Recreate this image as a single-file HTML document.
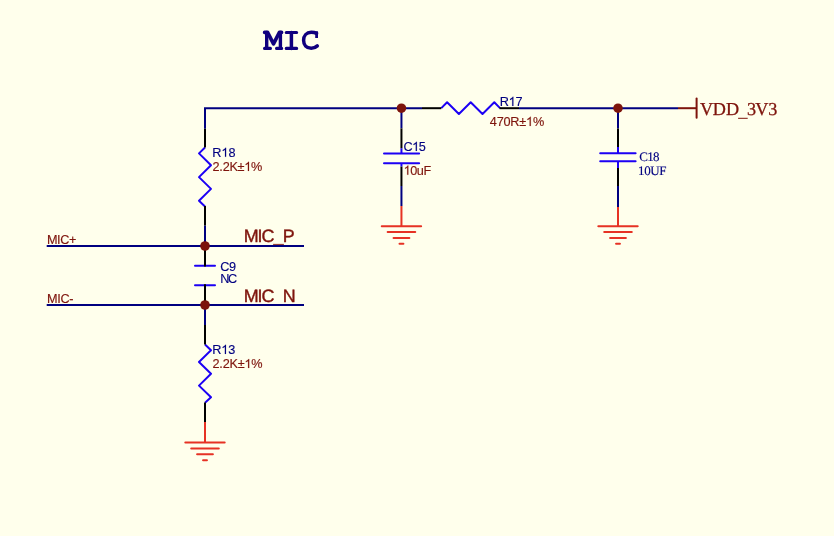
<!DOCTYPE html>
<html><head><meta charset="utf-8"><title>MIC</title>
<style>
html,body{margin:0;padding:0;background:#FFFFEC;}
body{width:834px;height:536px;overflow:hidden;}
svg{display:block;}
.gp{text-rendering:geometricPrecision;}
</style></head><body>
<svg width="834" height="536" viewBox="0 0 834 536">
<defs><filter id="nf" x="0" y="0" width="1" height="1"><feOffset dx="0" dy="0"/></filter></defs>
<rect x="0" y="0" width="834" height="536" fill="#FFFFEC"/>
<g fill="none" stroke="#10007E" stroke-width="3.2" stroke-linecap="round" stroke-linejoin="round">
<path d="M264.6 32.4 H267.6 L273.5 43.9 L279.4 32.4 H281.6" stroke-width="3.6"/>
<path d="M266.7 32.4 V48.4 M280.4 32.4 V48.4" stroke-width="3.4"/>
<path d="M264.6 48.4 H270.4 M276.6 48.4 H281.6"/>
<path d="M286.3 32.5 H296.6 M286.3 48.4 H296.6"/><path d="M291.4 32.5 V48.4" stroke-width="3.5"/>
<path d="M316.6 33.4 C315 32.6 313.2 32.3 311.2 32.3 C306.5 32.3 303.6 35.8 303.6 40.3 C303.6 45 306.5 48.3 311.2 48.3 C313.8 48.3 315.8 47.3 317.3 45.9" stroke-width="3.5"/>
<path d="M316.6 31.3 V38.0" stroke-width="2.8" stroke-linecap="butt"/>
</g>
<g filter="url(#nf)">
<text x="212.23 221.37 228.41" y="156.8" font-family='"Liberation Sans",sans-serif' font-size="12.7" fill="#000080" stroke="#000080" stroke-width="0.15">R 8</text><path transform="translate(221.37 156.8) scale(12.7)" d="M0.3726 0L0.2847 0L0.2847 -0.560C0.263 -0.540 0.228 -0.511 0.173 -0.483C0.150 -0.471 0.128 -0.463 0.1089 -0.459L0.1089 -0.544C0.148 -0.561 0.189 -0.585 0.228 -0.614C0.272 -0.648 0.304 -0.683 0.3218 -0.716L0.3726 -0.716Z" fill="#000080" stroke="#000080" stroke-width="0.0118"/>
<text x="212.44 219.23 222.63 229.43 237.58 244.29 251.09" y="170.9" font-family='"Liberation Sans",sans-serif' font-size="12.7" fill="#7E140C" stroke="#7E140C" stroke-width="0.15">2.2K± %</text><path transform="translate(244.29 170.9) scale(12.7)" d="M0.3726 0L0.2847 0L0.2847 -0.560C0.263 -0.540 0.228 -0.511 0.173 -0.483C0.150 -0.471 0.128 -0.463 0.1089 -0.459L0.1089 -0.544C0.148 -0.561 0.189 -0.585 0.228 -0.614C0.272 -0.648 0.304 -0.683 0.3218 -0.716L0.3726 -0.716Z" fill="#7E140C" stroke="#7E140C" stroke-width="0.0118"/>
<text x="212.23 221.26 228.22" y="353.9" font-family='"Liberation Sans",sans-serif' font-size="12.7" fill="#000080" stroke="#000080" stroke-width="0.15">R 3</text><path transform="translate(221.26 353.9) scale(12.7)" d="M0.3726 0L0.2847 0L0.2847 -0.560C0.263 -0.540 0.228 -0.511 0.173 -0.483C0.150 -0.471 0.128 -0.463 0.1089 -0.459L0.1089 -0.544C0.148 -0.561 0.189 -0.585 0.228 -0.614C0.272 -0.648 0.304 -0.683 0.3218 -0.716L0.3726 -0.716Z" fill="#000080" stroke="#000080" stroke-width="0.0118"/>
<text x="212.54 219.35 222.76 229.57 237.74 244.47 251.29" y="368.0" font-family='"Liberation Sans",sans-serif' font-size="12.7" fill="#7E140C" stroke="#7E140C" stroke-width="0.15">2.2K± %</text><path transform="translate(244.47 368.0) scale(12.7)" d="M0.3726 0L0.2847 0L0.2847 -0.560C0.263 -0.540 0.228 -0.511 0.173 -0.483C0.150 -0.471 0.128 -0.463 0.1089 -0.459L0.1089 -0.544C0.148 -0.561 0.189 -0.585 0.228 -0.614C0.272 -0.648 0.304 -0.683 0.3218 -0.716L0.3726 -0.716Z" fill="#7E140C" stroke="#7E140C" stroke-width="0.0118"/>
<text x="220.23 228.96" y="270.9" font-family='"Liberation Sans",sans-serif' font-size="12.7" fill="#000080" stroke="#000080" stroke-width="0.15">C9</text>
<text x="220.23 228.04" y="282.8" font-family='"Liberation Sans",sans-serif' font-size="12.7" fill="#000080" stroke="#000080" stroke-width="0.15">NC</text>
<text x="403.53 412.15 418.80" y="150.9" font-family='"Liberation Sans",sans-serif' font-size="12.7" fill="#000080" stroke="#000080" stroke-width="0.15">C 5</text><path transform="translate(412.15 150.9) scale(12.7)" d="M0.3726 0L0.2847 0L0.2847 -0.560C0.263 -0.540 0.228 -0.511 0.173 -0.483C0.150 -0.471 0.128 -0.463 0.1089 -0.459L0.1089 -0.544C0.148 -0.561 0.189 -0.585 0.228 -0.614C0.272 -0.648 0.304 -0.683 0.3218 -0.716L0.3726 -0.716Z" fill="#000080" stroke="#000080" stroke-width="0.0118"/>
<text x="403.59 410.22 416.85 423.48" y="174.7" font-family='"Liberation Sans",sans-serif' font-size="12.7" fill="#7E140C" stroke="#7E140C" stroke-width="0.15"> 0uF</text><path transform="translate(403.59 174.7) scale(12.7)" d="M0.3726 0L0.2847 0L0.2847 -0.560C0.263 -0.540 0.228 -0.511 0.173 -0.483C0.150 -0.471 0.128 -0.463 0.1089 -0.459L0.1089 -0.544C0.148 -0.561 0.189 -0.585 0.228 -0.614C0.272 -0.648 0.304 -0.683 0.3218 -0.716L0.3726 -0.716Z" fill="#7E140C" stroke="#7E140C" stroke-width="0.0118"/>
<text x="499.73 508.64 515.50" y="105.9" font-family='"Liberation Sans",sans-serif' font-size="12.7" fill="#000080" stroke="#000080" stroke-width="0.15">R 7</text><path transform="translate(508.64 105.9) scale(12.7)" d="M0.3726 0L0.2847 0L0.2847 -0.560C0.263 -0.540 0.228 -0.511 0.173 -0.483C0.150 -0.471 0.128 -0.463 0.1089 -0.459L0.1089 -0.544C0.148 -0.561 0.189 -0.585 0.228 -0.614C0.272 -0.648 0.304 -0.683 0.3218 -0.716L0.3726 -0.716Z" fill="#000080" stroke="#000080" stroke-width="0.0118"/>
<text x="489.78 496.64 503.50 510.36 519.26 526.03 532.89" y="125.9" font-family='"Liberation Sans",sans-serif' font-size="12.7" fill="#7E140C" stroke="#7E140C" stroke-width="0.15">470R± %</text><path transform="translate(526.03 125.9) scale(12.7)" d="M0.3726 0L0.2847 0L0.2847 -0.560C0.263 -0.540 0.228 -0.511 0.173 -0.483C0.150 -0.471 0.128 -0.463 0.1089 -0.459L0.1089 -0.544C0.148 -0.561 0.189 -0.585 0.228 -0.614C0.272 -0.648 0.304 -0.683 0.3218 -0.716L0.3726 -0.716Z" fill="#7E140C" stroke="#7E140C" stroke-width="0.0118"/>
<text x="46.93 56.93 60.27 68.93" y="244.3" font-family='"Liberation Sans",sans-serif' font-size="12.7" fill="#7E140C" stroke="#7E140C" stroke-width="0.15">MIC+</text>
<text x="46.93 57.13 60.52 69.36" y="303.3" font-family='"Liberation Sans",sans-serif' font-size="12.7" fill="#7E140C" stroke="#7E140C" stroke-width="0.15">MIC-</text>
<text class="gp" x="243.73 257.55 261.59" y="241.7" font-family='"Liberation Sans",sans-serif' font-size="17.9" fill="#7E140C" stroke="#7E140C" stroke-width="0.4">MIC</text>
<text class="gp" x="282.73" y="241.7" font-family='"Liberation Sans",sans-serif' font-size="17.9" fill="#7E140C" stroke="#7E140C" stroke-width="0.4">P</text>
<text class="gp" x="243.73 257.55 261.59" y="301.6" font-family='"Liberation Sans",sans-serif' font-size="17.9" fill="#7E140C" stroke="#7E140C" stroke-width="0.4">MIC</text>
<text class="gp" x="282.73" y="301.6" font-family='"Liberation Sans",sans-serif' font-size="17.9" fill="#7E140C" stroke="#7E140C" stroke-width="0.4">N</text>
<text x="639.14 647.13 653.12" y="161.0" font-family='"Liberation Serif",serif' font-size="13" fill="#000080" stroke="#000080" stroke-width="0.15" class="gp">C18</text>
<text x="638.03 644.17 650.30 659.16" y="174.5" font-family='"Liberation Serif",serif' font-size="13" fill="#000080" stroke="#000080" stroke-width="0.15" class="gp">10UF</text>
<text class="gp" x="699.95 712.73 725.93" y="115.0" font-family='"Liberation Serif",serif' font-size="18.2" fill="#7E140C" stroke="#7E140C" stroke-width="0.3">VDD</text>
<text class="gp" x="746.88 755.25 768.28" y="115.0" font-family='"Liberation Serif",serif' font-size="18.2" fill="#7E140C" stroke="#7E140C" stroke-width="0.3">3V3</text>
</g>
<rect x="273.1" y="243.9" width="10.8" height="0.9" fill="#7E140C"/>
<rect x="738.1" y="117.8" width="9.6" height="1.0" fill="#7E140C"/>
<g stroke="#000080" stroke-width="2" fill="none">
<path d="M205 128.7 V108.2 H422"/>
<path d="M519 108.2 H678"/>
<path d="M401.45 108.2 V128.4"/>
<path d="M401.45 186 V206"/>
<path d="M618 108.2 V128.4"/>
<path d="M618 186 V207"/>
<path d="M205 225.4 V246"/>
<path d="M46.7 246 H304"/>
<path d="M46.7 305 H304"/>
<path d="M205 305 V325"/>
</g>
<g stroke="#1C00F4" stroke-width="2" fill="none" stroke-linecap="round" stroke-linejoin="round">
<path d="M205 147.5 L199 153.4 L211 165.2 L199 177.1 L211 188.9 L199 200.7 L205 206.5" stroke-linecap="butt"/>
<path d="M205 344.5 L211 350.2 L199 362 L211 373.8 L199 385.6 L211 397.3 L205 402.8" stroke-linecap="butt"/>
<path d="M441.3 108.1 L447.1 102.2 L458.9 114 L470.7 102.2 L482.5 114 L494.3 102.2 L500 108.1" stroke-linecap="butt"/>
<path d="M195 265.7 H215"/>
<path d="M195 285.2 H215"/>
<path d="M401.45 148.2 V153.4" stroke-linecap="butt"/>
<path d="M401.45 163.3 V166.6" stroke-linecap="butt"/>
<path d="M384 153.4 H419.1"/>
<path d="M384 163.3 H419.1"/>
<path d="M618 147.1 V153.3" stroke-linecap="butt"/>
<path d="M618 161.2 V167.9" stroke-linecap="butt"/>
<path d="M600.2 153.3 H635.6"/>
<path d="M600.2 161.2 H635.6"/>
</g>
<g stroke="#000000" stroke-width="2" fill="none">
<path d="M205 128.7 V147.5"/>
<path d="M205 206 V225.4"/>
<path d="M205 246 V266.5"/>
<path d="M205 284.2 V305"/>
<path d="M205 325 V344.5"/>
<path d="M205 402.6 V422"/>
<path d="M422 108.2 H441.3"/>
<path d="M499.5 108.2 H519"/>
<path d="M401.45 128.4 V148.2"/>
<path d="M401.45 166.6 V186"/>
<path d="M618 128.4 V147.1"/>
<path d="M618 167.9 V186"/>
</g>
<g stroke="#E63224" stroke-width="2" fill="none" stroke-linecap="round">
<path d="M401.45 206 V226.2" stroke-linecap="butt"/>
<path d="M381.75 226.2 H421.15 M387.65 232.05 H415.25 M393.55 237.95 H409.35 M399.50 243.80 H403.40"/>
<path d="M618 207 V226.2" stroke-linecap="butt"/>
<path d="M598.30 226.2 H637.70 M604.20 232.05 H631.80 M610.10 237.95 H625.90 M616.05 243.80 H619.95"/>
<path d="M205 422 V442.6" stroke-linecap="butt"/>
<path d="M185.30 442.6 H224.70 M191.20 448.45 H218.80 M197.10 454.35 H212.90 M203.05 460.20 H206.95"/>
</g>
<g stroke="#7E140C" stroke-width="2" fill="none">
<path d="M678 108.2 H696.6"/>
<path d="M696.6 98.5 V117.8" stroke-linecap="round"/>
</g>
<g fill="#7D140C">
<circle cx="401.45" cy="108.2" r="4.75"/>
<circle cx="618" cy="108.2" r="4.75"/>
<circle cx="205" cy="246" r="4.8"/>
<circle cx="205" cy="305" r="4.8"/>
</g>
</svg>
</body></html>
